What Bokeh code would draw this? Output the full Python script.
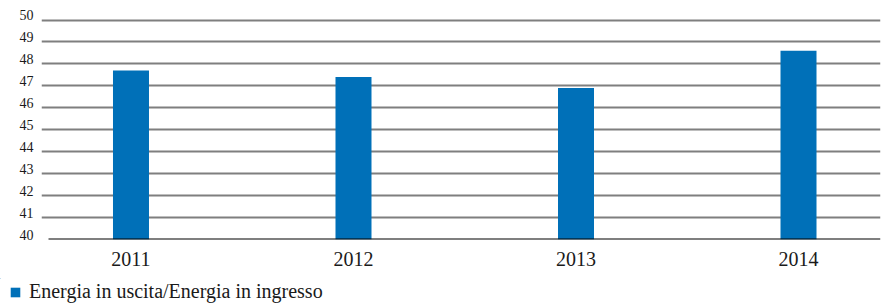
from bokeh.plotting import figure
from bokeh.models import (FixedTicker, Range1d, Legend, LegendItem, ColumnDataSource,
                          LinearAxis)
from bokeh.embed import file_html
from bokeh.resources import INLINE

years = ["2011", "2012", "2013", "2014"]
values = [47.7, 47.4, 46.9, 48.6]
y_ticks = list(range(40, 51))
series_label = "Energia in uscita/Energia in ingresso"

xs = list(range(len(years)))
src = ColumnDataSource(dict(x=xs, top=values, year=years))

BAR = "#0070B8"
FONT = "Liberation Serif"

x_start, x_end = -0.4022, 3.3685
FRAME_W = 839
PX_PER_Y = 21.95
y_start, y_end = 40, 50 + 9.5 / PX_PER_Y
p = figure(width=884, height=278, output_backend="svg", toolbar_location=None,
           x_range=Range1d(x_start, x_end), y_range=Range1d(y_start, y_end),
           min_border_left=41, min_border_right=4, min_border_top=10, min_border_bottom=39)
p.outline_line_color = None
p.background_fill_color = "white"

bars = p.vbar(x="x", top="top", bottom=40, width=0.1618, source=src,
              fill_color=BAR, line_color=None)

# baseline
px_per_unit = FRAME_W / (x_end - x_start)
p.segment(x0=[x_start + 7 / px_per_unit], x1=[x_end], y0=[40], y1=[40],
          line_color="black", line_width=2)

p.xgrid.visible = False
p.ygrid.ticker = FixedTicker(ticks=y_ticks[1:])
p.ygrid.grid_line_color = "#7f7f7f"
p.ygrid.grid_line_width = 2

# tick labels sit just above their gridline: use a shifted label range
shift = 5 / PX_PER_Y
p.extra_y_ranges = {"lab": Range1d(y_start - shift, y_end - shift)}
p.yaxis.visible = False
yax = LinearAxis(y_range_name="lab", ticker=FixedTicker(ticks=y_ticks))
yax.axis_line_color = None
yax.major_tick_line_color = None
yax.minor_tick_line_color = None
yax.major_tick_out = 0
yax.major_tick_in = 0
yax.minor_tick_out = 0
yax.major_label_standoff = 8
yax.major_label_text_font = FONT
yax.major_label_text_font_size = "14px"
yax.major_label_text_color = "#1a1a1a"
p.add_layout(yax, "left")

p.xaxis.ticker = FixedTicker(ticks=xs)
p.xaxis.major_label_overrides = {i: y for i, y in zip(xs, years)}
p.xaxis.axis_line_color = None
p.xaxis.major_tick_line_color = None
p.xaxis.minor_tick_line_color = None
p.xaxis.major_tick_out = 0
p.xaxis.major_tick_in = 0
p.xaxis.minor_tick_out = 0
p.xaxis.major_label_standoff = 12
p.xaxis.major_label_text_font = FONT
p.xaxis.major_label_text_font_size = "20px"
p.xaxis.major_label_text_color = "#1a1a1a"

# legend strip (separate root so its frame starts at the left edge)
q = figure(width=884, height=29, output_backend="svg", toolbar_location=None,
           x_range=Range1d(10, 11), y_range=Range1d(0, 1),
           min_border=0, min_border_left=0, min_border_right=0,
           min_border_top=0, min_border_bottom=0)
q.axis.visible = False
q.grid.visible = False
q.outline_line_color = None
# same bars, but out of this strip's view: only its legend swatch shows
swatch = q.vbar(x="x", top="top", bottom=40, width=0.1618, source=src,
                fill_color=BAR, line_color=None)
legend = Legend(items=[LegendItem(label=series_label, renderers=[swatch])],
                location=(9, 4), padding=0, margin=0,
                border_line_color=None, background_fill_alpha=0,
                glyph_width=12, glyph_height=12, label_standoff=8,
                label_text_font=FONT, label_text_font_size="20px",
                label_text_color="#1a1a1a", label_height=12)
q.add_layout(legend, "center")

open("out.html", "w").write(file_html([p, q], INLINE))
